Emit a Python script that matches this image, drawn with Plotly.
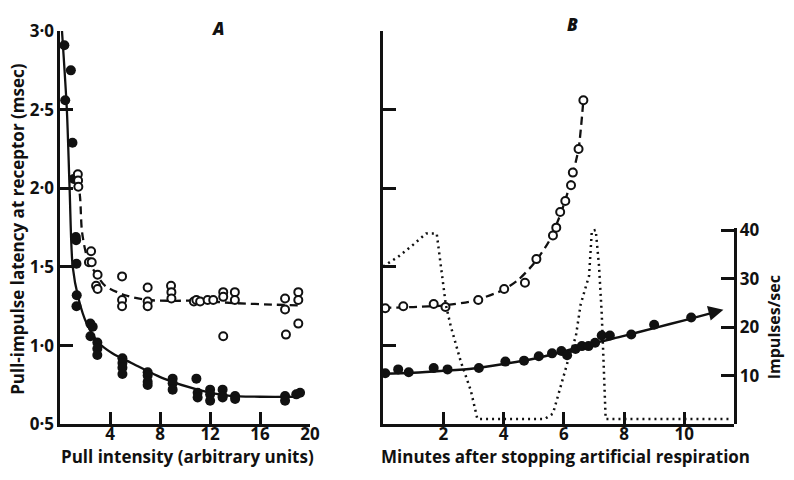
import plotly.graph_objects as go

# ---------------- Panel A data ----------------
a_filled_x = [0.33, 0.85, 0.4, 0.98, 1.09, 1.25, 1.27, 1.3, 1.32, 1.3,
              2.41, 2.6, 2.42, 2.97, 2.97, 2.97, 4.98, 4.98, 4.98, 4.98,
              7.0, 7.0, 7.0, 7.0, 9.0, 9.0, 9.0, 10.9, 11.0, 11.0,
              12.0, 12.0, 12.0, 13.0, 13.0, 13.0, 14.0, 14.0, 18.0, 18.0,
              18.9, 19.2]
a_filled_y = [2.91, 2.75, 2.56, 2.29, 2.06, 1.69, 1.67, 1.52, 1.32, 1.25,
              1.14, 1.12, 1.06, 1.02, 0.98, 0.94, 0.92, 0.89, 0.86, 0.82,
              0.83, 0.81, 0.77, 0.75, 0.79, 0.76, 0.72, 0.79, 0.70, 0.67,
              0.72, 0.69, 0.65, 0.72, 0.68, 0.67, 0.68, 0.66, 0.68, 0.65,
              0.69, 0.70]

a_open_x = [1.41, 1.43, 1.45, 2.47, 2.3, 2.52, 2.99, 2.87, 2.99,
            4.95, 4.95, 4.95, 7.0, 7.0, 7.0, 8.87, 8.9, 8.9,
            10.7, 10.9, 11.2, 11.8, 12.25, 13.05, 13.05, 13.05,
            13.98, 13.98, 18.0, 18.0, 18.07, 19.06, 19.06, 19.06]
a_open_y = [2.09, 2.05, 2.01, 1.60, 1.53, 1.53, 1.45, 1.38, 1.36,
            1.44, 1.29, 1.25, 1.37, 1.28, 1.25, 1.38, 1.34, 1.30,
            1.28, 1.29, 1.28, 1.29, 1.29, 1.34, 1.31, 1.06,
            1.34, 1.29, 1.30, 1.23, 1.07, 1.34, 1.29, 1.14]

a_solid_fit_x = [0.14, 0.53, 0.75, 1.0, 1.46, 2.12, 3.05, 4.2, 5.7, 8.3, 11.0, 13.6, 16.0, 19.2]
a_solid_fit_y = [3.0, 2.5, 2.0, 1.5, 1.30, 1.14, 1.02, 0.95, 0.89, 0.79, 0.72, 0.68, 0.675, 0.675]

a_dash_fit_x = [1.45, 1.6, 1.75, 2.2, 3.0, 3.6, 5.2, 7.0, 9.0, 11.0, 14.0, 17.3, 19.3]
a_dash_fit_y = [2.05, 1.93, 1.72, 1.55, 1.44, 1.38, 1.32, 1.29, 1.285, 1.285, 1.27, 1.26, 1.255]

a_xticks = [4, 8, 12, 16, 20]
a_yticks = [0.5, 1.0, 1.5, 2.0, 2.5, 3.0]
a_yticklabels = ["0·5", "1·0", "1·5", "2·0", "2·5", "3·0"]

# ---------------- Panel B data ----------------
b_open_x = [0.07, 0.67, 1.68, 2.07, 3.16, 4.02, 4.71, 5.09, 5.64, 5.75, 5.88,
            6.05, 6.24, 6.3, 6.49, 6.65]
b_open_y = [1.238, 1.25, 1.265, 1.245, 1.29, 1.36, 1.40, 1.55, 1.70, 1.75, 1.85,
            1.92, 2.02, 2.10, 2.25, 2.56]

b_dash_fit_x = [0.0, 1.0, 2.0, 3.0, 4.0, 4.5, 5.0, 5.5, 5.9, 6.2, 6.49, 6.65]
b_dash_fit_y = [1.24, 1.245, 1.255, 1.285, 1.355, 1.42, 1.52, 1.66, 1.84, 2.02, 2.25, 2.56]

b_filled_x = [0.07, 0.5, 0.85, 1.68, 2.14, 3.18, 4.06, 4.68, 5.17, 5.61, 5.92,
              6.11, 6.39, 6.6, 6.82, 7.04, 7.26, 7.53, 8.24, 9.0, 10.23]
b_filled_y = [10.5, 11.3, 10.7, 11.6, 11.3, 11.6, 12.9, 13.1, 14.0, 14.6, 15.1,
              14.2, 15.5, 16.1, 16.1, 16.8, 18.3, 18.3, 18.5, 20.5, 22.0]

b_solid_fit_x = [0.0, 1.0, 2.0, 3.0, 4.0, 5.0, 6.0, 7.0, 8.0, 9.0, 10.0, 10.9]
b_solid_fit_y = [10.4, 10.6, 11.0, 11.5, 12.4, 13.5, 15.0, 16.7, 18.2, 19.8, 21.4, 22.9]

b_rate_x = [0.0, 0.5, 1.0, 1.43, 1.78, 1.92, 2.08, 2.25, 2.58, 2.91, 3.13,
            5.37, 5.64, 5.86, 6.13, 6.4, 6.56, 6.73, 6.84, 6.93, 7.06, 7.17,
            7.26, 7.32, 7.39, 11.6]
b_rate_y = [32.5, 34.5, 37.0, 39.3, 39.3, 32.6, 24.7, 20.1, 12.9, 7.0, 1.1,
            1.1, 2.2, 7.0, 12.9, 18.1, 24.7, 28.3, 30.6, 39.8, 40.0, 32.6,
            22.7, 12.9, 1.1, 1.1]

b_xticks = [2, 4, 6, 8, 10]
b_yticks = [1.0, 1.5, 2.0, 2.5, 3.0]
b_rticks = [10, 20, 30, 40]

FONT = "Open Sans"
BLACK = "#111111"

fig = go.Figure()

# Panel A
fig.add_trace(go.Scatter(x=a_solid_fit_x, y=a_solid_fit_y, mode="lines",
                         line=dict(color=BLACK, width=2.3, shape="spline", smoothing=0.8),
                         xaxis="x", yaxis="y", showlegend=False))
fig.add_trace(go.Scatter(x=a_dash_fit_x, y=a_dash_fit_y, mode="lines",
                         line=dict(color=BLACK, width=2.3, dash="8px,5px", shape="spline", smoothing=0.8),
                         xaxis="x", yaxis="y", showlegend=False))
fig.add_trace(go.Scatter(x=a_filled_x, y=a_filled_y, mode="markers",
                         marker=dict(color=BLACK, size=10, line=dict(width=0)),
                         xaxis="x", yaxis="y", showlegend=False, cliponaxis=False))
fig.add_trace(go.Scatter(x=a_open_x, y=a_open_y, mode="markers",
                         marker=dict(color="white", size=8, line=dict(color=BLACK, width=2)),
                         xaxis="x", yaxis="y", showlegend=False, cliponaxis=False))

# Panel B
fig.add_trace(go.Scatter(x=b_rate_x, y=b_rate_y, mode="lines",
                         line=dict(color=BLACK, width=2.5, dash="2px,4px"),
                         xaxis="x2", yaxis="y3", showlegend=False))
fig.add_trace(go.Scatter(x=b_dash_fit_x, y=b_dash_fit_y, mode="lines",
                         line=dict(color=BLACK, width=2.3, dash="8px,5px", shape="spline", smoothing=0.6),
                         xaxis="x2", yaxis="y2", showlegend=False))
fig.add_trace(go.Scatter(x=b_open_x, y=b_open_y, mode="markers",
                         marker=dict(color="white", size=8, line=dict(color=BLACK, width=2)),
                         xaxis="x2", yaxis="y2", showlegend=False, cliponaxis=False))
fig.add_trace(go.Scatter(x=b_solid_fit_x, y=b_solid_fit_y, mode="lines",
                         line=dict(color=BLACK, width=2.5, shape="spline", smoothing=0.8),
                         xaxis="x2", yaxis="y3", showlegend=False))
fig.add_trace(go.Scatter(x=b_filled_x, y=b_filled_y, mode="markers",
                         marker=dict(color=BLACK, size=10, line=dict(width=0)),
                         xaxis="x2", yaxis="y3", showlegend=False, cliponaxis=False))

W, H = 794, 480
def px(x):
    return x / W
def py(y):
    return 1 - y / H

tickfont = dict(family=FONT, size=17, color=BLACK, weight=700)
axcommon = dict(showgrid=False, zeroline=False, showline=True, linecolor=BLACK,
                linewidth=2.5, ticks="inside", tickcolor=BLACK, tickwidth=2.5,
                ticklen=13, tickfont=tickfont, fixedrange=True)

fig.update_layout(
    width=W, height=H,
    margin=dict(l=0, r=0, t=0, b=0),
    paper_bgcolor="white", plot_bgcolor="rgba(0,0,0,0)",
    font=dict(family=FONT, color=BLACK),
    xaxis=dict(domain=[px(61), px(314)], range=[0, 20], anchor="y",
               tickvals=a_xticks, ticklabelstandoff=-7, **axcommon),
    yaxis=dict(domain=[py(433), py(20)], range=[0.5, 3.0], anchor="x",
               tickvals=a_yticks, ticktext=a_yticklabels, **axcommon),
    xaxis2=dict(domain=[px(388), px(743)], range=[0, 11.64], anchor="y2",
                tickvals=b_xticks, ticklabelstandoff=-7, **axcommon),
    yaxis2=dict(domain=[py(433), py(20)], range=[0.5, 3.0], anchor="x2",
                tickvals=b_yticks, showticklabels=False, **axcommon),
    yaxis3=dict(domain=[py(433), py(227)], range=[0, 40.4], anchor="x2",
                side="right", tickvals=b_rticks, **axcommon),
)

ann_font = dict(family=FONT, size=17, color=BLACK, weight=700)
fig.add_annotation(x=px(17), y=py(228), xref="paper", yref="paper", textangle=-90,
                   text="Pull-impulse latency at receptor (msec)", showarrow=False,
                   font=ann_font, xanchor="center", yanchor="middle")
fig.add_annotation(x=px(190), y=py(467), xref="paper", yref="paper",
                   text="Pull intensity (arbitrary units)", showarrow=False,
                   font=ann_font, xanchor="center", yanchor="middle")
fig.add_annotation(x=px(573), y=py(467), xref="paper", yref="paper",
                   text="Minutes after stopping artificial respiration", showarrow=False,
                   font=ann_font, xanchor="center", yanchor="middle")
fig.add_annotation(x=px(784), y=py(331), xref="paper", yref="paper", textangle=-90,
                   text="Impulses/sec", showarrow=False,
                   font=dict(family=FONT, size=16, color=BLACK, weight=700),
                   xanchor="center", yanchor="middle")
fig.add_annotation(x=px(221), y=py(17), xref="paper", yref="paper",
                   text="<i>A</i>", showarrow=False,
                   font=dict(family=FONT, size=17, color=BLACK, weight=800),
                   xanchor="center", yanchor="middle")
fig.add_annotation(x=px(580), y=py(13), xref="paper", yref="paper",
                   text="<i>B</i>", showarrow=False,
                   font=dict(family=FONT, size=17, color=BLACK, weight=800),
                   xanchor="center", yanchor="middle")
# Arrow at end of the impulse-rate curve
fig.add_annotation(x=11.3, y=23.6, ax=10.85, ay=22.9, xref="x2", yref="y3",
                   axref="x2", ayref="y3", showarrow=True, arrowhead=2,
                   arrowsize=1.2, arrowwidth=2.5, arrowcolor=BLACK, text="")

fig.write_html("out.html")
